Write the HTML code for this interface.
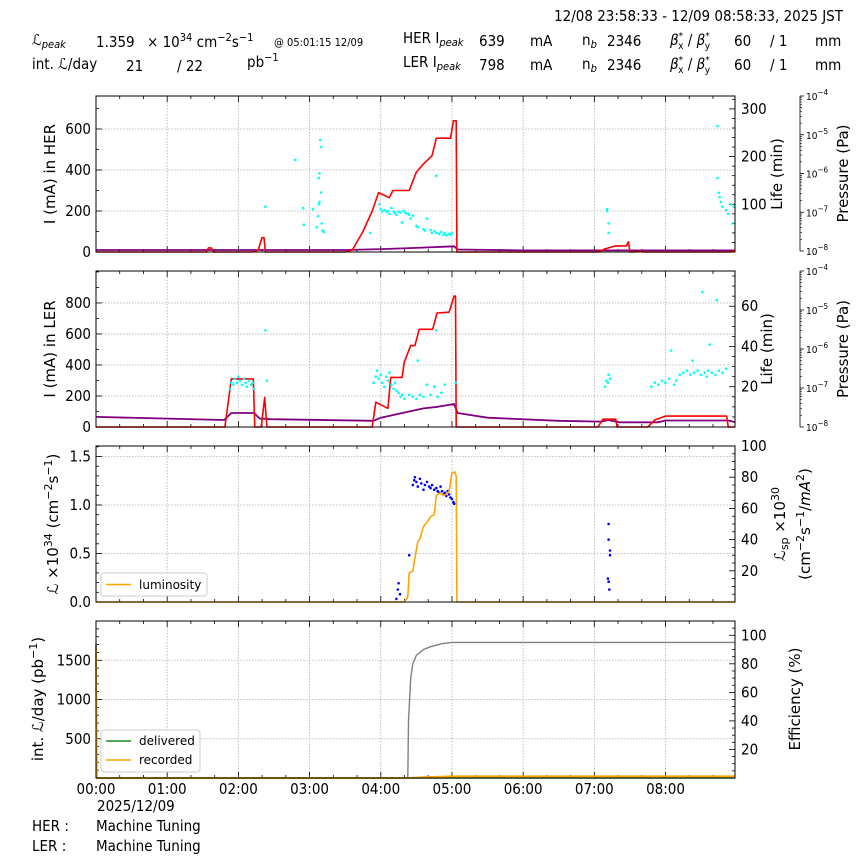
<!DOCTYPE html>
<html><head><meta charset="utf-8">
<style>
html,body{margin:0;padding:0;background:#fff;}
svg{display:block;}
text{font-family:"DejaVu Sans Condensed","DejaVu Sans","Liberation Sans",sans-serif;fill:#000;}
.lab{font-family:"DejaVu Sans","Liberation Sans",sans-serif;}
</style></head>
<body>
<svg id="chart" width="864" height="864" viewBox="0 0 864 864" xmlns="http://www.w3.org/2000/svg">
<g font-size="15">
<text x="843" y="21" text-anchor="end">12/08 23:58:33 - 12/09 08:58:33, 2025 JST</text>
<text x="32" y="45"><tspan font-style="italic">ℒ</tspan><tspan font-size="11" font-style="italic" dy="3">peak</tspan></text>
<text x="96" y="47">1.359</text>
<text x="147" y="47">× 10<tspan font-size="11" dy="-6">34</tspan><tspan dy="6"> cm</tspan><tspan font-size="11" dy="-6">−2</tspan><tspan dy="6">s</tspan><tspan font-size="11" dy="-6">−1</tspan></text>
<text x="274" y="46" font-size="11">@ 05:01:15 12/09</text>
<text x="32" y="69">int. <tspan font-style="italic">ℒ</tspan>/day</text>
<text x="126" y="71">21</text>
<text x="177" y="71">/  22</text>
<text x="247" y="67">pb<tspan font-size="11" dy="-6">−1</tspan></text>
<text x="403" y="43">HER I<tspan font-size="11" font-style="italic" dy="3">peak</tspan></text>
<text x="479" y="46">639</text>
<text x="530" y="46">mA</text>
<text x="582" y="45">n<tspan font-size="11" font-style="italic" dy="3">b</tspan></text>
<text x="607" y="46">2346</text>
<text x="670" y="45"><tspan font-style="italic">β</tspan><tspan font-size="10" dy="-6">*</tspan><tspan font-size="10" dx="-5" dy="10">x</tspan><tspan dy="-4"> / </tspan><tspan font-style="italic">β</tspan><tspan font-size="10" dy="-6">*</tspan><tspan font-size="10" dx="-5" dy="10">y</tspan></text>
<text x="734" y="46">60</text>
<text x="770" y="46">/ 1</text>
<text x="815" y="46">mm</text>
<text x="403" y="67">LER I<tspan font-size="11" font-style="italic" dy="3">peak</tspan></text>
<text x="479" y="70">798</text>
<text x="530" y="70">mA</text>
<text x="582" y="69">n<tspan font-size="11" font-style="italic" dy="3">b</tspan></text>
<text x="607" y="70">2346</text>
<text x="670" y="69"><tspan font-style="italic">β</tspan><tspan font-size="10" dy="-6">*</tspan><tspan font-size="10" dx="-5" dy="10">x</tspan><tspan dy="-4"> / </tspan><tspan font-style="italic">β</tspan><tspan font-size="10" dy="-6">*</tspan><tspan font-size="10" dx="-5" dy="10">y</tspan></text>
<text x="734" y="70">60</text>
<text x="770" y="70">/ 1</text>
<text x="815" y="70">mm</text>
</g>
<g id="plots"></g>
<g font-size="15">
<text x="97" y="811">2025/12/09</text>
<text x="32" y="831">HER :</text>
<text x="96" y="831">Machine Tuning</text>
<text x="32" y="851">LER :</text>
<text x="96" y="851">Machine Tuning</text>
</g>
</svg>
<script>
// ---------- data ----------
const xTickLabels = ["00:00","01:00","02:00","03:00","04:00","05:00","06:00","07:00","08:00"];
// HER panel
const herCurH = [0,1.55,1.58,1.62,1.65,2.2,2.28,2.33,2.36,2.38,3.5,3.6,3.75,3.88,3.97,4.12,4.17,4.4,4.5,4.6,4.72,4.78,4.98,5.02,5.06,5.07,7.05,7.15,7.3,7.45,7.48,7.5,7.55,7.65,7.68,8.9,8.98];
const herCurV = [0,0,20,20,0,0,10,70,70,0,0,10,100,200,290,265,300,300,390,430,470,555,555,640,640,0,0,15,30,30,50,0,0,5,0,0,10];
const herPurH = [0,3.5,4.0,4.5,5.03,5.08,6,8.98];
const herPurV = [10,10,14,20,28,12,8,8];
const herLifePts = [[2.38,95],[2.8,193],[2.91,92],[2.92,57],[3.05,90],[3.1,52],[3.12,75],[3.13,100],[3.13,155],[3.14,105],[3.14,165],[3.15,235],[3.16,220],[3.16,125],[3.17,60],[3.18,45],[3.2,42],[3.85,40],
[3.98,100],[4.0,90],[4.02,85],[4.05,88],[4.08,84],[4.1,86],[4.12,80],[4.15,92],[4.18,85],[4.2,82],[4.22,78],[4.25,84],[4.28,83],[4.3,62],[4.32,86],[4.35,82],[4.38,80],[4.4,78],[4.42,70],[4.45,76],[4.5,55],[4.52,52],[4.6,48],[4.62,45],[4.65,70],[4.7,46],[4.72,40],[4.75,44],[4.78,160],[4.78,40],[4.82,38],[4.85,42],[4.88,36],[4.9,40],[4.92,35],[4.95,38],[4.98,36],[5.0,40],
[7.18,90],[7.18,86],[7.2,60],[7.2,40],[8.73,264],[8.73,155],[8.75,124],[8.76,115],[8.78,105],[8.8,95],[8.85,88],[8.88,80],[8.92,100],[8.94,60],[8.96,95]];
// LER panel
const lerCurH = [0,1.81,1.9,2.21,2.23,2.32,2.37,2.4,3.88,3.93,4.1,4.14,4.3,4.33,4.42,4.48,4.54,4.73,4.79,4.96,5.03,5.05,5.06,7.05,7.12,7.3,7.32,7.75,7.85,8.0,8.86,8.88,8.98];
const lerCurV = [0,0,310,310,0,0,190,0,0,160,120,320,320,420,525,525,630,630,735,740,845,845,0,0,50,50,0,0,45,70,70,0,0];
const lerPurH = [0,1.8,1.9,2.22,2.3,2.45,3.9,4.0,4.2,4.4,4.6,4.8,5.03,5.08,5.5,6.5,7.1,7.2,7.35,7.9,8.0,8.88,8.98];
const lerPurV = [65,45,90,90,55,50,40,60,80,100,120,130,148,90,60,40,35,45,30,30,42,42,30];
const lerLifePts = [[1.88,19],[1.9,22],[1.93,21],[1.95,24],[1.98,22],[2.0,25],[2.02,23],[2.05,21],[2.08,24],[2.1,22],[2.12,20],[2.15,23],[2.18,21],[2.2,22],[2.22,19],[2.38,48],[2.4,23],
[3.9,22],[3.93,25],[3.95,28],[3.97,24],[4.0,26],[4.02,22],[4.05,20],[4.08,25],[4.1,23],[4.12,27],[4.15,21],[4.18,19],[4.2,22],[4.22,18],[4.25,17],[4.28,15],[4.3,16],[4.33,14],[4.4,16],[4.45,15],[4.5,14],[4.52,33],[4.55,16],[4.6,15],[4.65,21],[4.7,16],[4.75,20],[4.78,48],[4.8,15],[4.85,17],[4.9,21],[5.05,22],
[7.15,20],[7.17,23],[7.19,22],[7.2,26],[7.22,24],[7.8,20],[7.85,22],[7.9,21],[7.95,23],[8.0,22],[8.05,24],[8.08,38],[8.12,21],[8.15,23],[8.2,26],[8.25,27],[8.3,28],[8.35,26],[8.38,33],[8.4,27],[8.45,28],[8.5,26],[8.52,67],[8.55,27],[8.58,25],[8.6,28],[8.62,41],[8.65,27],[8.7,26],[8.72,63],[8.75,28],[8.8,27],[8.85,29]];
// Luminosity panel
const lumH = [0,4.33,4.38,4.4,4.45,4.48,4.52,4.55,4.6,4.65,4.7,4.75,4.78,4.82,4.9,4.96,5.0,5.04,5.06,5.07,8.98];
const lumV = [0,0,0.05,0.3,0.32,0.45,0.62,0.65,0.78,0.82,0.88,0.9,1.1,1.12,1.1,1.14,1.33,1.34,1.3,0,0];
const lspPts = [[4.22,2],[4.24,8],[4.25,12],[4.27,5],[4.4,30],[4.45,75],[4.47,78],[4.48,80],[4.5,77],[4.52,74],[4.55,79],[4.57,76],[4.6,72],[4.62,75],[4.65,77],[4.68,74],[4.7,73],[4.72,75],[4.75,72],[4.78,73],[4.8,71],[4.82,70],[4.84,74],[4.86,71],[4.88,69],[4.9,70],[4.92,68],[4.94,71],[4.96,69],[4.98,67],[5.0,66],[5.02,64],[5.03,63],
[7.2,50],[7.2,40],[7.22,33],[7.22,30],[7.19,15],[7.2,13],[7.21,8]];
// Integrated luminosity panel
const delivH = [0,0.008,8.98];
const delivV = [1700,0,0];
const recH = [0,0.012,4.38,4.6,5.0,8.98];
const recV = [1650,0,0,10,22,22];
const effH = [0,4.38,4.39,4.42,4.45,4.5,4.6,4.7,4.85,5.0,8.98];
const effV = [0,0,40,70,80,86,90,92,94,95,95];

// ---------- drawing ----------
const NS="http://www.w3.org/2000/svg";
const root=document.getElementById('plots');
const X0=96,X1=735,HMAX=8.976;
function xs(h){return X0+(X1-X0)*h/HMAX;}
function mk(tag,attrs,parent){const e=document.createElementNS(NS,tag);for(const k in attrs)e.setAttribute(k,attrs[k]);(parent||root).appendChild(e);return e;}
function scale(top,bot,max){return v=>bot-(bot-top)*v/max;}
function path(H,V,ys,color,w,name){
  let d='';for(let i=0;i<H.length;i++)d+=(i?'L':'M')+xs(H[i]).toFixed(1)+','+ys(V[i]).toFixed(1);
  const p=mk('path',{d:d,fill:'none',stroke:color,'stroke-width':w,'stroke-linejoin':'round'});
  
  
}
function dots(pts,ys,color,name){
  const g=mk('g',{fill:color});
  
  
  pts.forEach(p=>{const c=mk('circle',{cx:xs(p[0]).toFixed(1),cy:ys(p[1]).toFixed(1),r:1.3},g);
    
    });
}
function panel(top,bot,L,R,name){
  const g=mk('g',{});
  
  
  const ly=scale(top,bot,L.max), ry=scale(top,bot,R.max);
  for(let h=1;h<=8;h++) mk('line',{x1:xs(h),x2:xs(h),y1:top,y2:bot,stroke:'#b0b0b0','stroke-dasharray':'1.5,1.5','stroke-width':0.8},g);
  L.ticks.forEach(v=>{ if(ly(v)>top+1&&ly(v)<bot-1) mk('line',{x1:X0,x2:X1,y1:ly(v),y2:ly(v),stroke:'#b0b0b0','stroke-dasharray':'1.5,1.5','stroke-width':0.8},g);});
  for(let m=0;m<=HMAX*60;m+=20){const x=xs(m/60),len=(m%60===0)?6:3;
    mk('line',{x1:x,x2:x,y1:bot,y2:bot-len,stroke:'#000','stroke-width':0.8},g);
    mk('line',{x1:x,x2:x,y1:top,y2:top+len,stroke:'#000','stroke-width':0.8},g);}
  for(let v=0;v<=L.max;v+=L.minor){const y=ly(v);const maj=L.ticks.some(t=>Math.abs(t-v)<1e-6);
    mk('line',{x1:X0,x2:X0+(maj?6:3),y1:y,y2:y,stroke:'#000','stroke-width':0.8},g);}
  L.ticks.forEach((v,i)=>{const t=mk('text',{x:X0-5,y:ly(v)+5,'text-anchor':'end','font-size':15},g);t.textContent=L.labels[i];
    
    });
  for(let v=0;v<=R.max;v+=R.minor){const y=ry(v);const maj=R.ticks.some(t=>Math.abs(t-v)<1e-6);
    mk('line',{x1:X1,x2:X1-(maj?6:3),y1:y,y2:y,stroke:'#000','stroke-width':0.8},g);}
  R.ticks.forEach((v,i)=>{const t=mk('text',{x:X1+6,y:ry(v)+5,'font-size':15},g);t.textContent=R.labels[i];
    
    });
  return {g,ly,ry};
}
function frame(top,bot){const r=mk('rect',{x:X0,y:top,width:X1-X0,height:bot-top,fill:'none',stroke:'#000','stroke-width':1});
  
  }
function rlabel(x,y,txtHtml,name,size){
  const t=mk('text',{x:x,y:y,'text-anchor':'middle','font-size':size||15,transform:'rotate(-90 '+x+' '+y+')','class':'lab'});
  t.innerHTML=txtHtml;
  
  
}
function pressureAxis(top,bot,name){
  const g=mk('g',{});
  
  
  const ax=800;
  mk('line',{x1:ax,x2:ax,y1:top,y2:bot,stroke:'#000','stroke-width':0.8},g);
  const dec=(bot-top)/4;
  for(let d=0;d<=4;d++){const y=top+d*dec;
    mk('line',{x1:ax,x2:ax+4,y1:y,y2:y,stroke:'#000','stroke-width':0.8},g);
    const t=mk('text',{x:ax+6,y:y+4,'font-size':10},g);t.innerHTML='10<tspan font-size="8" dy="-5">−'+(4+d)+'</tspan>';
    
    
    if(d<4)for(let k=2;k<10;k++){const yy=y+dec-dec*Math.log10(k);mk('line',{x1:ax,x2:ax+2,y1:yy,y2:yy,stroke:'#000','stroke-width':0.6},g);}
  }
  rlabel(848,(top+bot)/2,'Pressure (Pa)','pressure-axis-title',15);
}

// Panel 1 HER
let p=panel(96,252,{max:761,ticks:[0,200,400,600],labels:['0','200','400','600'],minor:100},{max:327,ticks:[100,200,300],labels:['100','200','300'],minor:20},'her-panel');
path(herPurH,herPurV,p.ly,'#800080',1.8,'her-pressure-line');
path(herCurH,herCurV,p.ly,'#ff0000',1.6,'her-current-line');
dots(herLifePts,p.ry,'#00ffff','her-lifetime-points');
frame(96,252);
rlabel(55,174,'I (mA) in HER','her-y-axis-title');
rlabel(782,174,'Life (min)','her-life-axis-title');
pressureAxis(96,251,'her-pressure-axis');

// Panel 2 LER
p=panel(271,427,{max:1006,ticks:[0,200,400,600,800],labels:['0','200','400','600','800'],minor:100},{max:77.5,ticks:[20,40,60],labels:['20','40','60'],minor:5},'ler-panel');
path(lerPurH,lerPurV,p.ly,'#800080',1.8,'ler-pressure-line');
path(lerCurH,lerCurV,p.ly,'#ff0000',1.6,'ler-current-line');
dots(lerLifePts,p.ry,'#00ffff','ler-lifetime-points');
frame(271,427);
rlabel(55,349,'I (mA) in LER','ler-y-axis-title');
rlabel(772,349,'Life (min)','ler-life-axis-title');
pressureAxis(271,427,'ler-pressure-axis');

// Panel 3 Luminosity
p=panel(446,602,{max:1.608,ticks:[0,0.5,1.0,1.5],labels:['0.0','0.5','1.0','1.5'],minor:0.1},{max:100,ticks:[20,40,60,80,100],labels:['20','40','60','80','100'],minor:5},'luminosity-panel');
dots(lspPts,p.ry,'#0000ff','specific-luminosity-points');
path(lumH,lumV,p.ly,'#ffa500',1.6,'luminosity-line');
frame(446,602);
rlabel(58,524,'<tspan font-style="italic">ℒ</tspan> ×10<tspan font-size="11" dy="-6">34</tspan><tspan dy="6"> (cm</tspan><tspan font-size="11" dy="-6">−2</tspan><tspan dy="6">s</tspan><tspan font-size="11" dy="-6">−1</tspan><tspan dy="6">)</tspan>','luminosity-y-axis-title');
rlabel(785,524,'<tspan font-style="italic">ℒ</tspan><tspan font-size="11" dy="3">sp</tspan><tspan dy="-3"> ×10</tspan><tspan font-size="11" dy="-6">30</tspan>','specific-luminosity-axis-title');
rlabel(810,524,'(cm<tspan font-size="11" dy="-6">−2</tspan><tspan dy="6">s</tspan><tspan font-size="11" dy="-6">−1</tspan><tspan dy="6">/</tspan><tspan font-style="italic">mA</tspan><tspan font-size="11" dy="-6">2</tspan><tspan dy="6">)</tspan>','specific-luminosity-unit');
let lg=mk('g',{});


mk('rect',{x:101,y:573,width:106,height:23,rx:3,fill:'#fff','fill-opacity':0.85,stroke:'#ccc'},lg);
mk('line',{x1:106,x2:131,y1:584.5,y2:584.5,stroke:'#ffa500','stroke-width':1.6},lg);
let t=mk('text',{x:139,y:589,'font-size':12,'class':'lab'},lg);t.textContent='luminosity';



// Panel 4 Integrated
p=panel(621,778,{max:2000,ticks:[500,1000,1500],labels:['500','1000','1500'],minor:100},{max:110,ticks:[20,40,60,80,100],labels:['20','40','60','80','100'],minor:5},'integrated-panel');
path(effH,effV,p.ry,'#808080',1.4,'efficiency-line');
path(delivH,delivV,p.ly,'#228b22',1.6,'delivered-line');
path(recH,recV,p.ly,'#ffa500',1.8,'recorded-line');
frame(621,778);
rlabel(43,699,'int. <tspan font-style="italic">ℒ</tspan>/day (pb<tspan font-size="11" dy="-6">−1</tspan><tspan dy="6">)</tspan>','integrated-y-axis-title');
rlabel(800,699,'Efficiency (%)','efficiency-axis-title');
lg=mk('g',{});


mk('rect',{x:101,y:730,width:99,height:42,rx:3,fill:'#fff','fill-opacity':0.85,stroke:'#ccc'},lg);
mk('line',{x1:106,x2:131,y1:741,y2:741,stroke:'#228b22','stroke-width':1.6},lg);
t=mk('text',{x:139,y:745,'font-size':12,'class':'lab'},lg);t.textContent='delivered';


mk('line',{x1:106,x2:131,y1:760,y2:760,stroke:'#ffa500','stroke-width':1.6},lg);
t=mk('text',{x:139,y:764,'font-size':12,'class':'lab'},lg);t.textContent='recorded';


xTickLabels.forEach((s,i)=>{const tt=mk('text',{x:xs(i),y:794,'text-anchor':'middle','font-size':15});tt.textContent=s;
  
  });
</script>
</body></html>
